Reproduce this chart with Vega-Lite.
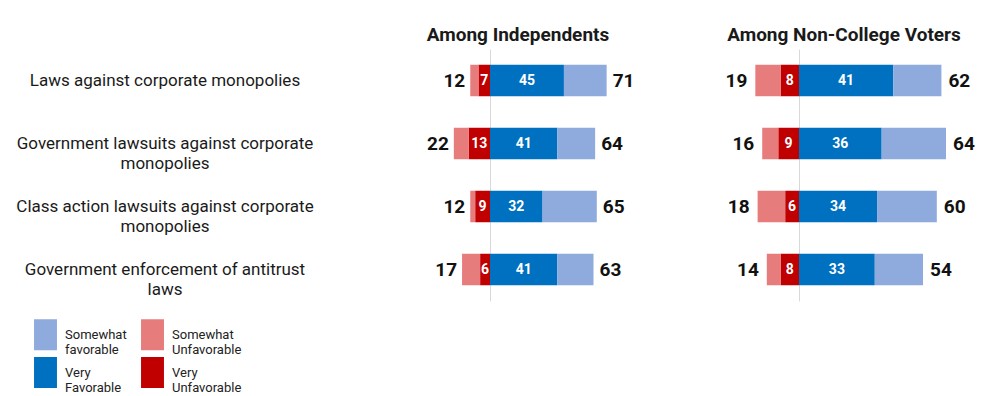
{
  "$schema": "https://vega.github.io/schema/vega-lite/v6.json",
  "padding": {"top": 26, "left": 0, "right": 0, "bottom": 0},
  "background": "white",
  "spacing": 10,
  "config": {"view": {"stroke": null}, "font": "Roboto"},
  "data": {"values": [
    {"panel": "Among Independents", "item": "Laws against corporate monopolies", "category": "Very Unfavorable", "value": -7, "label": 7},
    {"panel": "Among Independents", "item": "Laws against corporate monopolies", "category": "Somewhat Unfavorable", "value": -5, "label": 12},
    {"panel": "Among Independents", "item": "Laws against corporate monopolies", "category": "Very Favorable", "value": 45, "label": 45},
    {"panel": "Among Independents", "item": "Laws against corporate monopolies", "category": "Somewhat favorable", "value": 26, "label": 71},
    {"panel": "Among Independents", "item": "Government lawsuits against corporate\nmonopolies", "category": "Very Unfavorable", "value": -13, "label": 13},
    {"panel": "Among Independents", "item": "Government lawsuits against corporate\nmonopolies", "category": "Somewhat Unfavorable", "value": -9, "label": 22},
    {"panel": "Among Independents", "item": "Government lawsuits against corporate\nmonopolies", "category": "Very Favorable", "value": 41, "label": 41},
    {"panel": "Among Independents", "item": "Government lawsuits against corporate\nmonopolies", "category": "Somewhat favorable", "value": 23, "label": 64},
    {"panel": "Among Independents", "item": "Class action lawsuits against corporate\nmonopolies", "category": "Very Unfavorable", "value": -9, "label": 9},
    {"panel": "Among Independents", "item": "Class action lawsuits against corporate\nmonopolies", "category": "Somewhat Unfavorable", "value": -3, "label": 12},
    {"panel": "Among Independents", "item": "Class action lawsuits against corporate\nmonopolies", "category": "Very Favorable", "value": 32, "label": 32},
    {"panel": "Among Independents", "item": "Class action lawsuits against corporate\nmonopolies", "category": "Somewhat favorable", "value": 33, "label": 65},
    {"panel": "Among Independents", "item": "Government enforcement of antitrust\nlaws", "category": "Very Unfavorable", "value": -6, "label": 6},
    {"panel": "Among Independents", "item": "Government enforcement of antitrust\nlaws", "category": "Somewhat Unfavorable", "value": -11, "label": 17},
    {"panel": "Among Independents", "item": "Government enforcement of antitrust\nlaws", "category": "Very Favorable", "value": 41, "label": 41},
    {"panel": "Among Independents", "item": "Government enforcement of antitrust\nlaws", "category": "Somewhat favorable", "value": 22, "label": 63},
    {"panel": "Among Non-College Voters", "item": "Laws against corporate monopolies", "category": "Very Unfavorable", "value": -8, "label": 8},
    {"panel": "Among Non-College Voters", "item": "Laws against corporate monopolies", "category": "Somewhat Unfavorable", "value": -11, "label": 19},
    {"panel": "Among Non-College Voters", "item": "Laws against corporate monopolies", "category": "Very Favorable", "value": 41, "label": 41},
    {"panel": "Among Non-College Voters", "item": "Laws against corporate monopolies", "category": "Somewhat favorable", "value": 21, "label": 62},
    {"panel": "Among Non-College Voters", "item": "Government lawsuits against corporate\nmonopolies", "category": "Very Unfavorable", "value": -9, "label": 9},
    {"panel": "Among Non-College Voters", "item": "Government lawsuits against corporate\nmonopolies", "category": "Somewhat Unfavorable", "value": -7, "label": 16},
    {"panel": "Among Non-College Voters", "item": "Government lawsuits against corporate\nmonopolies", "category": "Very Favorable", "value": 36, "label": 36},
    {"panel": "Among Non-College Voters", "item": "Government lawsuits against corporate\nmonopolies", "category": "Somewhat favorable", "value": 28, "label": 64},
    {"panel": "Among Non-College Voters", "item": "Class action lawsuits against corporate\nmonopolies", "category": "Very Unfavorable", "value": -6, "label": 6},
    {"panel": "Among Non-College Voters", "item": "Class action lawsuits against corporate\nmonopolies", "category": "Somewhat Unfavorable", "value": -12, "label": 18},
    {"panel": "Among Non-College Voters", "item": "Class action lawsuits against corporate\nmonopolies", "category": "Very Favorable", "value": 34, "label": 34},
    {"panel": "Among Non-College Voters", "item": "Class action lawsuits against corporate\nmonopolies", "category": "Somewhat favorable", "value": 26, "label": 60},
    {"panel": "Among Non-College Voters", "item": "Government enforcement of antitrust\nlaws", "category": "Very Unfavorable", "value": -8, "label": 8},
    {"panel": "Among Non-College Voters", "item": "Government enforcement of antitrust\nlaws", "category": "Somewhat Unfavorable", "value": -6, "label": 14},
    {"panel": "Among Non-College Voters", "item": "Government enforcement of antitrust\nlaws", "category": "Very Favorable", "value": 33, "label": 33},
    {"panel": "Among Non-College Voters", "item": "Government enforcement of antitrust\nlaws", "category": "Somewhat favorable", "value": 21, "label": 54}
  ]},
  "hconcat": [
    {
      "width": 328,
      "height": 252,
      "transform": [{"filter": "datum.panel == 'Among Independents' && datum.category == 'Very Favorable'"}],
      "mark": {"type": "text", "font": "Roboto", "fontSize": 17, "align": "center", "baseline": "middle", "lineBreak": "\n", "lineHeight": 20, "dx": 1, "color": "#1a1a1a"},
      "encoding": {
        "y": {"field": "item", "type": "nominal", "axis": null,
          "sort": ["Laws against corporate monopolies", "Government lawsuits against corporate\nmonopolies", "Class action lawsuits against corporate\nmonopolies", "Government enforcement of antitrust\nlaws"],
          "scale": {"paddingInner": 0.5, "paddingOuter": 0.25}},
        "text": {"field": "item", "type": "nominal"}
      }
    },
    {
      "width": 360,
      "height": 252,
      "title": {"text": "Among Independents", "font": "Roboto", "fontSize": 19, "fontWeight": "bold", "color": "#1a1a1a", "anchor": "middle", "offset": 4},
      "transform": [{"filter": "datum.panel == 'Among Independents'"}],
      "encoding": {
        "y": {"field": "item", "type": "nominal", "axis": null,
          "sort": ["Laws against corporate monopolies", "Government lawsuits against corporate\nmonopolies", "Class action lawsuits against corporate\nmonopolies", "Government enforcement of antitrust\nlaws"],
          "scale": {"paddingInner": 0.5, "paddingOuter": 0.25}}
      },
      "layer": [
        {
          "mark": {"type": "bar"},
          "encoding": {
            "x": {"field": "value", "type": "quantitative", "stack": "zero",
              "axis": {"values": [0], "grid": true, "gridColor": "#d9d9d9", "gridWidth": 1, "labels": false, "ticks": false, "domain": false, "title": null},
              "scale": {"domain": [-92.5, 126.6], "nice": false, "zero": false}},
            "color": {"field": "category", "type": "nominal",
              "scale": {"domain": ["Somewhat favorable", "Very Favorable", "Somewhat Unfavorable", "Very Unfavorable"], "range": ["#8FAADC", "#0070C0", "#E67C7C", "#C00000"]},
              "legend": {"title": null, "orient": "none", "legendX": 30, "legendY": 270, "columns": 2, "symbolType": "M-0.74,-1H0.74V1H-0.74Z", "symbolSize": 961, "symbolStrokeWidth": 0, "rowPadding": -7, "columnPadding": 10, "labelOffset": 4, "labelFontSize": 13, "labelFont": "Roboto", "labelColor": "#222222", "labelExpr": "split(datum.label, ' ')", "padding": 0, "labelBaseline": "middle"}},
            "order": {"field": "category", "type": "nominal", "sort": "descending"}
          }
        },
        {
          "mark": {"type": "text", "color": "white", "font": "Roboto", "fontWeight": "bold", "fontSize": 14},
          "encoding": {
            "x": {"field": "value", "type": "quantitative", "stack": "zero", "bandPosition": 0.5},
            "detail": {"field": "category", "type": "nominal"},
            "order": {"field": "category", "type": "nominal", "sort": "descending"},
            "text": {"condition": {"test": "indexof(datum.category, 'Very') == 0", "field": "label", "type": "quantitative"}, "value": ""}
          }
        },
        {
          "mark": {"type": "text", "align": "right", "dx": -5, "font": "Roboto", "fontWeight": "bold", "fontSize": 19, "color": "#111111"},
          "encoding": {
            "x": {"field": "value", "type": "quantitative", "stack": "zero"},
            "detail": {"field": "category", "type": "nominal"},
            "order": {"field": "category", "type": "nominal", "sort": "descending"},
            "text": {"condition": {"test": "datum.category == 'Somewhat Unfavorable'", "field": "label", "type": "quantitative"}, "value": ""}
          }
        },
        {
          "mark": {"type": "text", "align": "left", "dx": 6, "font": "Roboto", "fontWeight": "bold", "fontSize": 19, "color": "#111111"},
          "encoding": {
            "x": {"field": "value", "type": "quantitative", "stack": "zero"},
            "detail": {"field": "category", "type": "nominal"},
            "order": {"field": "category", "type": "nominal", "sort": "descending"},
            "text": {"condition": {"test": "datum.category == 'Somewhat favorable'", "field": "label", "type": "quantitative"}, "value": ""}
          }
        }
      ]
    },
    {
      "width": 272,
      "height": 252,
      "title": {"text": "Among Non-College Voters", "font": "Roboto", "fontSize": 19, "fontWeight": "bold", "color": "#1a1a1a", "anchor": "middle", "offset": 4},
      "transform": [{"filter": "datum.panel == 'Among Non-College Voters'"}],
      "encoding": {
        "y": {"field": "item", "type": "nominal", "axis": null,
          "sort": ["Laws against corporate monopolies", "Government lawsuits against corporate\nmonopolies", "Class action lawsuits against corporate\nmonopolies", "Government enforcement of antitrust\nlaws"],
          "scale": {"paddingInner": 0.5, "paddingOuter": 0.25}}
      },
      "layer": [
        {
          "mark": {"type": "bar"},
          "encoding": {
            "x": {"field": "value", "type": "quantitative", "stack": "zero",
              "axis": {"values": [0], "grid": true, "gridColor": "#d9d9d9", "gridWidth": 1, "labels": false, "ticks": false, "domain": false, "title": null},
              "scale": {"domain": [-39.6, 78.8], "nice": false, "zero": false}},
            "color": {"field": "category", "type": "nominal",
              "scale": {"domain": ["Somewhat favorable", "Very Favorable", "Somewhat Unfavorable", "Very Unfavorable"], "range": ["#8FAADC", "#0070C0", "#E67C7C", "#C00000"]}},
            "order": {"field": "category", "type": "nominal", "sort": "descending"}
          }
        },
        {
          "mark": {"type": "text", "color": "white", "font": "Roboto", "fontWeight": "bold", "fontSize": 14},
          "encoding": {
            "x": {"field": "value", "type": "quantitative", "stack": "zero", "bandPosition": 0.5},
            "detail": {"field": "category", "type": "nominal"},
            "order": {"field": "category", "type": "nominal", "sort": "descending"},
            "text": {"condition": {"test": "indexof(datum.category, 'Very') == 0", "field": "label", "type": "quantitative"}, "value": ""}
          }
        },
        {
          "mark": {"type": "text", "align": "right", "dx": -8, "font": "Roboto", "fontWeight": "bold", "fontSize": 19, "color": "#111111"},
          "encoding": {
            "x": {"field": "value", "type": "quantitative", "stack": "zero"},
            "detail": {"field": "category", "type": "nominal"},
            "order": {"field": "category", "type": "nominal", "sort": "descending"},
            "text": {"condition": {"test": "datum.category == 'Somewhat Unfavorable'", "field": "label", "type": "quantitative"}, "value": ""}
          }
        },
        {
          "mark": {"type": "text", "align": "left", "dx": 7, "font": "Roboto", "fontWeight": "bold", "fontSize": 19, "color": "#111111"},
          "encoding": {
            "x": {"field": "value", "type": "quantitative", "stack": "zero"},
            "detail": {"field": "category", "type": "nominal"},
            "order": {"field": "category", "type": "nominal", "sort": "descending"},
            "text": {"condition": {"test": "datum.category == 'Somewhat favorable'", "field": "label", "type": "quantitative"}, "value": ""}
          }
        }
      ]
    }
  ]
}
